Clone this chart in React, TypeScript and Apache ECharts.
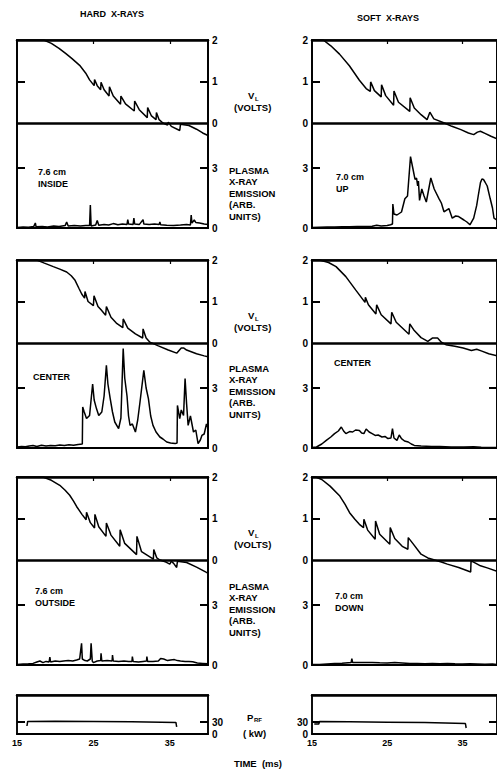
import React, { useEffect, useRef } from "react";
import * as echarts from "echarts";

// ---------- data (time in ms, value) ----------
const hardInsideVL = [[15,2],[18.5,2],[19.5,1.92],[20.5,1.8],[21.4,1.67],[22.2,1.55],[23.2,1.39],[24.0,1.2],[24.5,1.04],[25.1,0.9],[25.15,1.05],[25.5,0.9],[25.95,0.8],[26.0,0.98],[26.4,0.8],[27.05,0.65],[27.1,0.87],[27.6,0.65],[28.55,0.45],[28.6,0.65],[29.2,0.46],[30.35,0.29],[30.4,0.53],[31.0,0.32],[32.05,0.13],[32.1,0.37],[32.6,0.17],[33.2,0.08],[33.25,0.25],[33.6,0.08],[34.1,0],[34.7,-0.05],[34.8,0.02],[35.2,-0.08],[36.3,-0.18],[36.4,-0.03],[37.5,-0.06],[38.5,-0.15],[39.3,-0.24],[40,-0.3]];
const hardInsidePlasma = [[15,0.03],[15.8,0.05],[16.5,0.04],[17.2,0.08],[17.4,0.25],[17.5,0.06],[18.3,0.07],[19.0,0.05],[19.8,0.1],[20.5,0.08],[21.3,0.12],[21.5,0.3],[21.7,0.1],[22.5,0.12],[23.3,0.1],[24.0,0.13],[24.5,0.12],[24.6,1.15],[24.7,0.1],[25.3,0.15],[25.5,0.38],[25.7,0.14],[26.4,0.18],[27.0,0.15],[27.6,0.22],[28.2,0.16],[28.8,0.2],[29.4,0.18],[29.5,0.42],[29.6,0.2],[30.2,0.18],[30.3,0.5],[30.4,0.2],[31.0,0.17],[31.5,0.42],[31.6,0.2],[32.3,0.18],[33.0,0.2],[33.6,0.17],[33.7,0.3],[33.8,0.16],[34.6,0.14],[35.5,0.12],[36.4,0.15],[37.2,0.18],[37.7,0.15],[37.8,0.65],[37.9,0.25],[38.2,0.4],[38.4,0.28],[38.9,0.25],[39.5,0.2],[40,0.18]];
const softUpVL = [[15,2],[16.5,2],[17.5,1.86],[18.66,1.66],[19.97,1.38],[21.3,1.03],[22.2,0.83],[22.75,0.76],[22.8,0.99],[23.3,0.78],[24.2,0.63],[24.25,0.92],[24.8,0.66],[25.85,0.43],[25.9,0.77],[26.5,0.5],[28.0,0.28],[28.05,0.61],[28.6,0.36],[29.5,0.2],[30.3,0.08],[30.67,0.26],[31.2,0.1],[32.6,0],[33.6,-0.08],[34.8,-0.16],[35.8,-0.24],[36.5,-0.28],[37.0,-0.22],[37.4,-0.2],[38,-0.25],[38.8,-0.32],[39.6,-0.38]];
const softUpPlasma = [[15,0.03],[16,0.04],[17,0.05],[18,0.05],[19,0.06],[20,0.06],[21,0.07],[22,0.08],[23,0.09],[23.6,0.14],[24.2,0.1],[25,0.12],[25.45,0.16],[25.7,0.2],[25.75,1.2],[25.9,0.7],[26.3,0.65],[26.9,0.8],[27.35,1.46],[27.7,1.6],[28.1,3.57],[28.4,3.0],[28.7,2.43],[28.9,2.5],[29.05,2.1],[29.15,2.35],[29.3,1.38],[29.6,1.95],[29.9,1.6],[30.2,1.3],[30.8,2.5],[31.25,1.95],[31.9,1.46],[32.2,1.25],[32.55,0.81],[33.2,0.97],[33.65,0.49],[34.1,0.6],[34.5,0.57],[35.2,0.4],[35.6,0.3],[36.0,0.16],[36.5,0.49],[36.9,1.13],[37.1,1.6],[37.4,2.27],[37.6,2.45],[37.8,2.43],[38.0,2.3],[38.3,2.1],[38.7,1.46],[39.0,1.0],[39.2,0.49],[39.6,0.4]];
const hardCenterVL = [[15,2],[17.6,2],[18.5,1.93],[19.75,1.84],[20.6,1.78],[21.5,1.71],[22.1,1.62],[22.6,1.51],[23.1,1.32],[23.47,1.18],[23.85,1.08],[23.9,1.24],[24.3,1.0],[25.0,0.9],[25.08,1.14],[25.6,0.88],[26.0,0.8],[26.6,0.67],[26.7,0.88],[27.3,0.62],[28.0,0.48],[28.85,0.37],[28.9,0.58],[29.5,0.36],[30.5,0.22],[31.45,0.12],[31.5,0.34],[31.9,0.12],[32.4,0.02],[33.5,-0.07],[34.8,-0.17],[35.9,-0.245],[36.5,-0.12],[36.8,-0.12],[37.2,-0.17],[38.5,-0.26],[39.5,-0.31],[40,-0.33]];
const hardCenterPlasma = [[15,0.05],[15.6,0.08],[16.1,0.06],[16.6,0.1],[17.1,0.12],[17.6,0.08],[18.2,0.14],[18.8,0.1],[19.4,0.13],[20.0,0.11],[20.6,0.15],[21.2,0.12],[21.8,0.16],[22.4,0.14],[23.0,0.18],[23.55,0.2],[23.6,2.05],[23.8,1.8],[24.1,1.47],[24.5,1.63],[24.9,3.2],[25.1,2.4],[25.4,1.97],[25.7,1.63],[26.1,1.8],[26.4,2.6],[26.7,4.13],[26.9,3.2],[27.2,2.47],[27.5,1.8],[27.8,1.3],[28.3,0.97],[28.6,1.5],[28.9,4.97],[29.1,3.5],[29.4,2.6],[29.6,1.6],[29.8,1.13],[30.1,1.2],[30.5,0.8],[30.8,1.4],[31.1,2.3],[31.6,3.88],[31.9,3.0],[32.2,2.47],[32.5,1.6],[32.8,1.13],[33.2,0.8],[33.7,0.55],[34.1,0.45],[34.6,0.3],[35.1,0.25],[35.7,0.22],[35.95,0.25],[36.0,2.13],[36.3,1.47],[36.5,1.9],[36.8,1.63],[37.0,3.47],[37.2,2.2],[37.4,1.13],[37.7,1.6],[38.1,0.8],[38.4,0.9],[38.7,0.22],[39.0,0.4],[39.2,0.63],[39.5,0.7],[39.8,1.2],[40,1.0]];
const softCenterVL = [[15,2],[16,2],[17.2,1.94],[18.2,1.84],[19.5,1.6],[20.8,1.28],[21.8,1.04],[22.05,0.98],[22.1,1.1],[22.5,0.92],[23.5,0.7],[23.6,0.92],[24.2,0.68],[25.5,0.46],[25.6,0.74],[26.2,0.5],[27.9,0.21],[28.0,0.46],[28.6,0.3],[29.5,0.13],[30.4,0.04],[31.0,0.12],[31.7,0.12],[32.2,0.02],[32.8,-0.04],[34,-0.08],[35.1,-0.12],[36.2,-0.18],[36.9,-0.15],[37.5,-0.19],[38.5,-0.26],[39.6,-0.31]];
const softCenterPlasma = [[15,0.02],[15.6,0.05],[16.3,0.2],[16.9,0.38],[17.5,0.55],[18.0,0.72],[18.5,0.85],[18.9,1.05],[19.2,0.85],[19.5,0.72],[20.0,0.82],[20.4,0.8],[20.8,0.9],[21.3,0.88],[21.6,0.75],[21.9,0.72],[22.2,0.95],[22.6,0.8],[23.0,0.72],[23.4,0.63],[23.8,0.65],[24.3,0.55],[24.7,0.58],[25.1,0.47],[25.5,0.5],[25.7,0.97],[25.9,0.5],[26.3,0.38],[26.6,0.65],[26.9,0.47],[27.3,0.35],[27.8,0.3],[28.2,0.2],[28.6,0.13],[29.5,0.1],[30.9,0.07],[32,0.08],[33.5,0.05],[35.2,0.05],[36.5,0.06],[37.5,0.04],[39.6,0.03]];
const hardOutsideVL = [[15,2],[18.4,2],[19.5,1.92],[20.6,1.8],[21.3,1.68],[21.9,1.56],[22.4,1.42],[22.8,1.29],[23.5,1.1],[24.05,0.97],[24.1,1.15],[24.6,0.9],[25.15,0.77],[25.2,1.1],[25.7,0.8],[26.65,0.57],[26.7,0.89],[27.3,0.6],[28.45,0.33],[28.5,0.73],[29.1,0.4],[30.65,0.13],[30.7,0.57],[31.3,0.2],[32.85,0.02],[32.9,0.25],[33.3,0.05],[33.7,0],[34.5,-0.05],[35.0,-0.1],[35.2,-0.03],[35.5,-0.08],[35.9,-0.18],[36.0,-0.03],[37.2,-0.06],[38.5,-0.17],[39.8,-0.3],[40,-0.31]];
const hardOutsidePlasma = [[15,0.03],[15.8,0.05],[16.5,0.06],[17.1,0.08],[17.6,0.15],[18.0,0.2],[18.4,0.12],[18.8,0.18],[19.2,0.15],[19.3,0.4],[19.4,0.15],[20.0,0.2],[20.6,0.17],[21.1,0.2],[21.7,0.22],[22.3,0.2],[22.8,0.25],[23.2,0.3],[23.45,1.08],[23.55,0.3],[23.9,0.22],[24.2,0.2],[24.6,0.3],[24.7,1.08],[24.85,0.2],[25.0,0.12],[25.5,0.2],[25.95,0.22],[26.0,0.58],[26.1,0.2],[26.8,0.22],[27.45,0.2],[27.5,0.5],[27.6,0.2],[28.3,0.18],[29.0,0.2],[29.6,0.17],[30.05,0.18],[30.1,0.42],[30.2,0.18],[30.9,0.15],[31.5,0.18],[31.95,0.2],[32.0,0.42],[32.1,0.17],[32.8,0.18],[33.5,0.2],[33.8,0.33],[34.2,0.3],[34.7,0.22],[35.1,0.25],[35.6,0.27],[36.0,0.22],[36.4,0.2],[37.0,0.18],[37.5,0.17],[38.0,0.16],[38.6,0.1],[39.3,0.08],[40,0.06]];
const softDownVL = [[15,2],[15.5,2],[16.3,1.94],[17.4,1.78],[18.7,1.54],[19.4,1.34],[20.0,1.14],[20.7,0.98],[21.3,0.86],[21.85,0.78],[21.9,0.98],[22.4,0.72],[23.4,0.5],[23.45,0.94],[24.0,0.62],[25.35,0.38],[25.4,0.78],[26.0,0.52],[27.0,0.33],[27.75,0.26],[27.8,0.54],[28.4,0.4],[29.5,0.14],[30.4,0.05],[31.3,0],[32.2,-0.05],[33.0,-0.1],[34.5,-0.18],[36.1,-0.29],[36.15,-0.02],[36.8,-0.08],[37.4,-0.14],[38.3,-0.19],[39.6,-0.27]];
const softDownPlasma = [[15,0.02],[16,0.03],[17,0.05],[18,0.07],[19,0.09],[20.2,0.12],[20.3,0.32],[20.4,0.12],[21,0.13],[22,0.12],[23,0.13],[24,0.11],[25,0.1],[26,0.12],[27,0.1],[28,0.08],[29,0.07],[30,0.06],[31,0.07],[32,0.06],[33,0.08],[34,0.06],[35,0.05],[36,0.06],[37,0.05],[38,0.04],[39,0.05],[39.6,0.03]];
const prfHard = [[16.3,20],[16.4,31.5],[20,31.6],[25,31.2],[30,30.5],[35.8,29],[35.9,18]];
const prfSoft = [[15.3,25],[15.9,25],[16.0,31],[20,30.5],[25,29.5],[30,28.5],[35.4,26],[35.5,15]];

const vlLabels = [0, 1, 2];
const vlTicks = [1];
const plasmaLabels = [0, 3];
const plasmaTicks = [3];
const prfLabels = [0, 30];
const prfTicks = [30];
const timeLabels = [15, 25, 35];
const topTicks = [25, 35];

// ---------- layout ----------
const FONT = "'Liberation Sans', Arial, sans-serif";
const COLS = [
  { left: 17, width: 191, max: 40, labelSide: "right", otherSide: "left" },
  { left: 312, width: 188, max: 39.6, labelSide: "left", otherSide: "right" },
];
const PANEL_TOPS = [40, 260, 477];
const PANEL_H = 188;
const VL_MIN = -2.53;
const PL_MAX = 9.4;
const PRF_TOP = 695;
const PRF_H = 39;
const PRF_MAX = 97.5;

function buildOption() {
  const grid: any[] = [];
  const xAxis: any[] = [];
  const yAxis: any[] = [];
  const series: any[] = [];
  const black = "#000";
  const labelStyle = () => ({ color: black, fontFamily: FONT, fontWeight: "bold", fontSize: 10, margin: 4 });

  const addGrid = (col: any, top: number, height: number, xLabels: boolean) => {
    const g = grid.length;
    grid.push({ left: col.left, top, width: col.width, height, show: true, borderColor: black, borderWidth: 1.5 });
    const xb = xAxis.length;
    xAxis.push({
      gridIndex: g, type: "value", min: 15, max: col.max, position: "bottom",
      axisLine: { show: true, onZero: false, lineStyle: { color: black, width: 2.2 } },
      axisTick: { show: false },
      axisLabel: xLabels ? { ...labelStyle(), fontSize: 9, customValues: [...timeLabels] } : { show: false },
      splitLine: { show: false },
    });
    xAxis.push({
      gridIndex: g, type: "value", min: 15, max: col.max, position: "top",
      axisLine: { show: true, onZero: false, lineStyle: { color: black, width: 2.5 } },
      axisTick: xLabels ? { show: false } : { show: true, inside: true, length: 4, customValues: [...topTicks], lineStyle: { color: black, width: 1.2 } },
      axisLabel: { show: false },
      splitLine: { show: false },
    });
    return { g, xb };
  };

  const yAx = (g: number, pos: string, min: number, max: number, ticks: number[], labels: number[] | null) => {
    const i = yAxis.length;
    yAxis.push({
      gridIndex: g, type: "value", min, max, position: pos,
      axisLine: { show: true, onZero: false, lineStyle: { color: black, width: 1.5 } },
      axisTick: { show: true, inside: true, length: 8, customValues: [...ticks], lineStyle: { color: black, width: 2 } },
      axisLabel: labels ? { ...labelStyle(), customValues: [...labels] } : { show: false },
      splitLine: { show: false },
    });
    return i;
  };

  const line = (xi: number, yi: number, data: number[][], extra: any = {}) => ({
    type: "line", xAxisIndex: xi, yAxisIndex: yi, data, symbol: "none", showSymbol: false,
    lineStyle: { color: black, width: 1.5 }, itemStyle: { color: black }, ...extra,
  });

  const panels = [
    [hardInsideVL, hardInsidePlasma, softUpVL, softUpPlasma],
    [hardCenterVL, hardCenterPlasma, softCenterVL, softCenterPlasma],
    [hardOutsideVL, hardOutsidePlasma, softDownVL, softDownPlasma],
  ];
  panels.forEach((p, pi) => {
    COLS.forEach((col, ci) => {
      const vl = p[ci * 2];
      const pl = p[ci * 2 + 1];
      const { g, xb } = addGrid(col, PANEL_TOPS[pi], PANEL_H, false);
      const yVL = yAx(g, col.labelSide, VL_MIN, 2, vlTicks, vlLabels);
      const yPL = yAx(g, col.labelSide, 0, PL_MAX, plasmaTicks, plasmaLabels);
      yAx(g, col.otherSide, VL_MIN, 2, vlTicks, null);
      yAx(g, col.otherSide, 0, PL_MAX, plasmaTicks, null);
      series.push(line(xb, yVL, vl, {
        markLine: {
          symbol: "none", label: { show: false },
          lineStyle: { color: black, width: 2.5, type: "solid" },
          data: [{ yAxis: 0 }],
        },
      }));
      series.push(line(xb, yPL, pl));
    });
  });

  [prfHard, prfSoft].forEach((d, ci) => {
    const col = COLS[ci];
    const { g, xb } = addGrid(col, PRF_TOP, PRF_H, true);
    const yi = yAx(g, col.labelSide, 0, PRF_MAX, prfTicks, prfLabels);
    yAx(g, col.otherSide, 0, PRF_MAX, prfTicks, null);
    series.push(line(xb, yi, d));
  });

  const txt = (text: string, x: number, y: number, size = 9, align = "left") => ({
    type: "text", x, y, silent: true,
    style: { text, fill: black, font: `bold ${size}px ${FONT}`, textAlign: align, textVerticalAlign: "middle" },
  });

  const graphic: any[] = [
    txt("HARD  X-RAYS", 112, 14, 9, "center"),
    txt("SOFT  X-RAYS", 388, 18, 9, "center"),
    txt("7.6 cm", 38, 172), txt("INSIDE", 38, 184),
    txt("7.0 cm", 336, 177), txt("UP", 336, 189),
    txt("CENTER", 33, 377), txt("CENTER", 334, 363),
    txt("7.6 cm", 35, 591), txt("OUTSIDE", 35, 603),
    txt("7.0 cm", 335, 596), txt("DOWN", 335, 608),
    txt("P", 247, 717, 9.5), txt("RF", 254, 720, 6),
    txt("( kW)", 243, 733, 9.5),
    txt("TIME  (ms)", 258, 763, 9.5, "center"),
  ];
  const vlY = [95, 315, 532];
  const plY = [170, 368, 586];
  vlY.forEach((y) => {
    graphic.push(txt("V", 248, y, 9.5), txt("L", 255, y + 4, 6), txt("(VOLTS)", 234, y + 12, 9.5));
  });
  plY.forEach((y) => {
    ["PLASMA", "X-RAY", "EMISSION", "(ARB.", "UNITS)"].forEach((s, i) => graphic.push(txt(s, 229, y + i * 11.5, 9.5)));
  });

  return {
    animation: false,
    backgroundColor: "#fff",
    grid, xAxis, yAxis, series, graphic,
  };
}

export default function App() {
  const ref = useRef<HTMLDivElement>(null);
  useEffect(() => {
    if (!ref.current) return;
    const chart = echarts.init(ref.current, null, { renderer: "svg" });
    chart.setOption(buildOption() as any);
    return () => chart.dispose();
  }, []);
  return <div ref={ref} style={{ position: "absolute", left: 0, top: 0, width: 497, height: 770 }} />;
}
